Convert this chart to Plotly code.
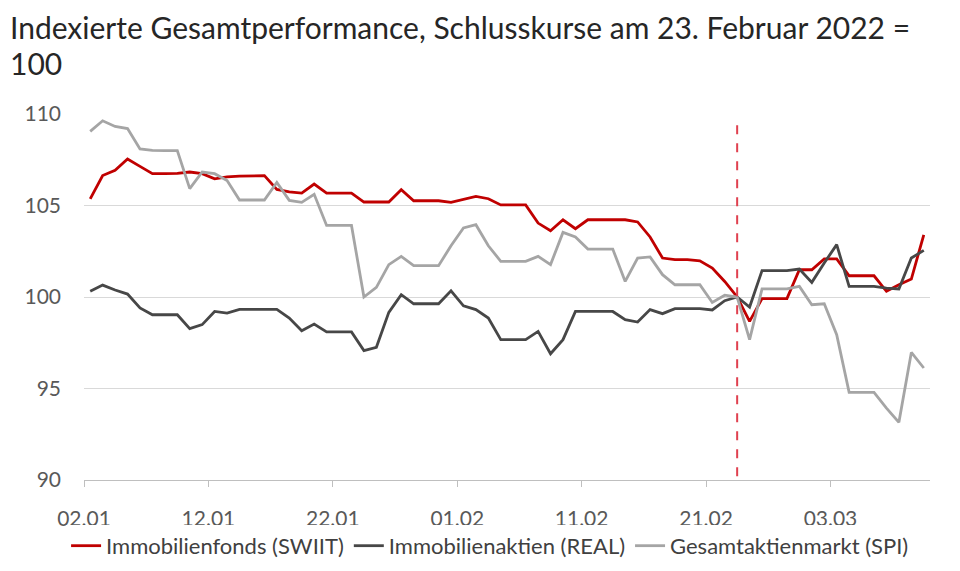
import pandas as pd
import plotly.graph_objects as go

# daily closing values, 02.01.2022 - 10.03.2022 (indexed, 23.02.2022 = 100)
dates = pd.date_range("2022-01-02", "2022-03-10", freq="D") + pd.Timedelta(hours=12)

swiit = [105.36, 106.64, 106.92, 107.54, 107.14, 106.74, 106.74, 106.76, 106.83, 106.74,
         106.46, 106.57, 106.61, 106.63, 106.63, 105.88, 105.74, 105.68, 106.17, 105.68,
         105.68, 105.68, 105.19, 105.17, 105.19, 105.86, 105.26, 105.26, 105.26, 105.17,
         105.35, 105.50, 105.37, 105.03, 105.03, 105.03, 104.04, 103.62, 104.22, 103.73,
         104.22, 104.22, 104.22, 104.22, 104.10, 103.28, 102.13, 102.04, 102.04, 101.98,
         101.58, 100.85, 100.00, 98.67, 99.91, 99.91, 99.91, 101.49, 101.49, 102.08,
         102.08, 101.16, 101.16, 101.16, 100.31, 100.67, 100.98, 103.40]

real = [100.31, 100.65, 100.38, 100.16, 99.40, 99.03, 99.03, 99.03, 98.27, 98.49,
        99.21, 99.12, 99.32, 99.32, 99.32, 99.32, 98.85, 98.15, 98.52, 98.09,
        98.09, 98.09, 97.07, 97.25, 99.16, 100.13, 99.63, 99.63, 99.63, 100.34,
        99.52, 99.31, 98.85, 97.67, 97.67, 97.67, 98.12, 96.90, 97.67, 99.21,
        99.21, 99.21, 99.21, 98.76, 98.63, 99.31, 99.09, 99.36, 99.36, 99.36,
        99.29, 99.80, 100.00, 99.45, 101.44, 101.44, 101.44, 101.53, 100.80, 101.86,
        102.86, 100.58, 100.58, 100.58, 100.49, 100.44, 102.13, 102.55]

spi = [109.05, 109.63, 109.32, 109.20, 108.09, 108.01, 108.00, 108.00, 105.92, 106.83,
       106.74, 106.36, 105.30, 105.30, 105.30, 106.26, 105.28, 105.17, 105.61, 103.91,
       103.91, 103.91, 100.00, 100.53, 101.77, 102.22, 101.71, 101.71, 101.71, 102.80,
       103.77, 103.95, 102.80, 101.95, 101.95, 101.95, 102.22, 101.77, 103.53, 103.28,
       102.62, 102.62, 102.62, 100.85, 102.13, 102.19, 101.22, 100.67, 100.67, 100.67,
       99.70, 100.10, 100.00, 97.67, 100.44, 100.44, 100.44, 100.58, 99.58, 99.63,
       97.94, 94.79, 94.79, 94.79, 93.93, 93.15, 96.97, 96.12]

tick_dates = ["2022-01-02", "2022-01-12", "2022-01-22", "2022-02-01",
              "2022-02-11", "2022-02-21", "2022-03-03"]
tick_labels = ["02.01", "12.01", "22.01", "01.02", "11.02", "21.02", "03.03"]
event_date = pd.Timestamp("2022-02-23") + pd.Timedelta(hours=12)

title_lines = ["Indexierte Gesamtperformance, Schlusskurse am 23. Februar 2022 =", "100"]

fig = go.Figure()
fig.add_trace(go.Scatter(x=dates, y=swiit, mode="lines", name="Immobilienfonds (SWIIT)",
                         line=dict(color="#C00000", width=2.8)))
fig.add_trace(go.Scatter(x=dates, y=real, mode="lines", name="Immobilienaktien (REAL)",
                         line=dict(color="#474747", width=2.8)))
fig.add_trace(go.Scatter(x=dates, y=spi, mode="lines", name="Gesamtaktienmarkt (SPI)",
                         line=dict(color="#A5A5A5", width=2.8)))

# dashed marker line for 23.02.2022
fig.add_shape(type="line", x0=event_date, x1=event_date, y0=0.01, y1=0.99,
              xref="x", yref="paper", line=dict(color="#E0404F", width=2, dash="dash"))

# title, one annotation per wrapped line
for line_text, ypos in zip(title_lines, [1.238, 1.139]):
    fig.add_annotation(text=line_text, xref="paper", yref="paper", x=-0.09, y=ypos,
                       xanchor="left", yanchor="middle", align="left", showarrow=False,
                       font=dict(family="Lato", size=30, color="#262626"))

fig.update_layout(
    width=960, height=571,
    paper_bgcolor="white", plot_bgcolor="white",
    font=dict(family="Lato", color="#595959", size=21),
    margin=dict(l=76, r=38, t=106, b=99, autoexpand=False),
    showlegend=True,
    legend=dict(orientation="h", x=0.48, xanchor="center", y=-0.18, yanchor="middle",
                font=dict(size=22, color="#404040"), itemwidth=30, tracegroupgap=0),
)
fig.update_xaxes(
    type="date", range=["2022-01-02", "2022-03-11"],
    tickvals=tick_dates, ticktext=tick_labels,
    showgrid=False, showline=True, linecolor="#BFBFBF", linewidth=1,
    ticks="outside", ticklen=6, tickcolor="#BFBFBF",
    ticklabelstandoff=14, tickfont=dict(size=21, color="#595959"),
)
fig.update_yaxes(
    range=[90, 110], tickvals=[90, 95, 100, 105, 110],
    showgrid=True, gridcolor="#D9D9D9", gridwidth=1, zeroline=False,
    showline=False, ticks="", ticklabelstandoff=22,
    tickfont=dict(size=21, color="#595959"),
)

fig.write_html("out.html")
